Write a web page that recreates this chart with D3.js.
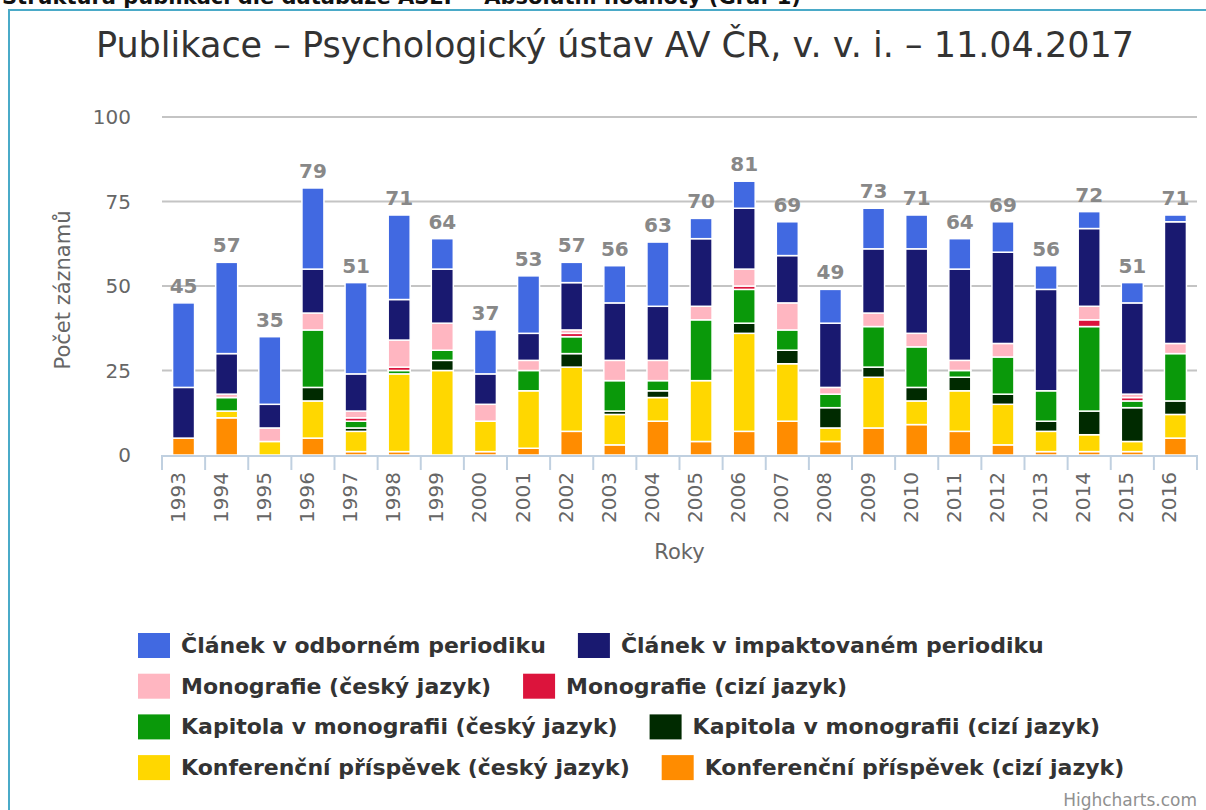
<!DOCTYPE html>
<html>
<head>
<meta charset="utf-8">
<script src="https://cdn.jsdelivr.net/npm/d3@7"></script>
<style>
  body { margin: 0; background: #fff; }
  svg { display: block; font-family: "DejaVu Sans", sans-serif; }
</style>
</head>
<body>
<div id="chart"></div>
<script>
/* Publikace - stacked columns by year */

// data
const years = ['1993','1994','1995','1996','1997','1998','1999','2000','2001','2002','2003','2004',
               '2005','2006','2007','2008','2009','2010','2011','2012','2013','2014','2015','2016'];

const clanekOdborny = [25,27,20,24,27,25, 9,13,17, 6,11,19, 6, 8,10,10,12,10, 9, 9, 7, 5, 6, 2];
const clanekImpakt  = [15,12, 7,13,11,12,16, 9, 8,14,17,16,20,18,14,19,19,25,27,27,30,23,27,36];
const monoCesky     = [ 0, 1, 4, 5, 2, 8, 8, 5, 3, 1, 6, 6, 4, 5, 8, 2, 4, 4, 3, 4, 0, 4, 1, 3];
const monoCizi      = [ 0, 0, 0, 0, 1, 1, 0, 0, 0, 1, 0, 0, 0, 1, 0, 0, 0, 0, 0, 0, 0, 2, 1, 0];
const kapCesky      = [ 0, 4, 0,17, 2, 1, 3, 0, 6, 5, 9, 3,18,10, 6, 4,12,12, 2,11, 9,25, 2,14];
const kapCizi       = [ 0, 0, 0, 4, 1, 0, 3, 0, 0, 4, 1, 2, 0, 3, 4, 6, 3, 4, 4, 3, 3, 7,10, 4];
const konfCesky     = [ 0, 2, 4,11, 6,23,25, 9,17,19, 9, 7,18,29,17, 4,15, 7,12,12, 6, 5, 3, 7];
const konfCizi      = [ 5,11, 0, 5, 1, 1, 0, 1, 2, 7, 3,10, 4, 7,10, 4, 8, 9, 7, 3, 1, 1, 1, 5];

const yTicks = [0, 25, 50, 75, 100];

// series in legend order (first one sits on top of the stack)
const series = [
  { key: 'clanekOdborny', name: 'Článek v odborném periodiku', colour: '#4169e1', values: clanekOdborny },
  { key: 'clanekImpakt', name: 'Článek v impaktovaném periodiku', colour: '#191970', values: clanekImpakt },
  { key: 'monoCesky', name: 'Monografie (český jazyk)', colour: '#ffb6c1', values: monoCesky },
  { key: 'monoCizi', name: 'Monografie (cizí jazyk)', colour: '#dc143c', values: monoCizi },
  { key: 'kapCesky', name: 'Kapitola v monografii (český jazyk)', colour: '#0a990a', values: kapCesky },
  { key: 'kapCizi', name: 'Kapitola v monografii (cizí jazyk)', colour: '#002a00', values: kapCizi },
  { key: 'konfCesky', name: 'Konferenční příspěvek (český jazyk)', colour: '#ffd700', values: konfCesky },
  { key: 'konfCizi', name: 'Konferenční příspěvek (cizí jazyk)', colour: '#ff8c00', values: konfCizi }
];

const config = {
  WIDTH: 1206,
  HEIGHT: 810,
  PLOT_LEFT: 162,
  PLOT_RIGHT: 1197,
  PLOT_TOP: 117,
  PLOT_BOTTOM: 455,
  LEGEND_X: 138,
  LEGEND_Y: 653,
  LEGEND_ROW: 40.7,
  SYMBOL_W: 32,
  SYMBOL_H: 25,
  ITEM_DISTANCE: 32
};

// table for d3.stack
const rows = years.map((y, i) => {
  let r = { year: y };
  series.forEach(s => { r[s.key] = s.values[i]; });
  return r;
});
const totals = years.map((y, i) => d3.sum(series, s => s.values[i]));

const svg = d3.select('#chart').append('svg')
  .attr('width', config.WIDTH)
  .attr('height', config.HEIGHT);

// page header (cut off at the top) and frame
svg.append('text')
  .attr('x', 2).attr('y', 4)
  .style('font-size', '21px').style('font-weight', 'bold').style('fill', '#111')
  .text('Struktura publikací dle databáze ASEP – Absolutní hodnoty (Graf 1)');

svg.append('path')
  .attr('d', 'M9,' + config.HEIGHT + 'V10H' + config.WIDTH)
  .attr('fill', 'none')
  .attr('stroke', '#4aaac8')
  .attr('stroke-width', 2);

// scales
const x = d3.scaleBand()
  .domain(years)
  .range([config.PLOT_LEFT, config.PLOT_RIGHT])
  .paddingInner(0.49)
  .paddingOuter(0.245);

const y = d3.scaleLinear()
  .domain([0, 100])
  .range([config.PLOT_BOTTOM, config.PLOT_TOP]);

// title
svg.append('text')
  .attr('x', 615).attr('y', 57)
  .attr('text-anchor', 'middle')
  .style('font-size', '35px').style('fill', '#333')
  .text('Publikace – Psychologický ústav AV ČR, v. v. i. – 11.04.2017');

// grid + y labels
const yAxis = svg.append('g');
yAxis.selectAll('line')
  .data(yTicks.filter(t => t > 0))
  .enter().append('line')
  .attr('x1', config.PLOT_LEFT).attr('x2', config.PLOT_RIGHT)
  .attr('y1', t => y(t)).attr('y2', t => y(t))
  .attr('stroke', '#c4c4c4').attr('stroke-width', 2);

yAxis.selectAll('text')
  .data(yTicks)
  .enter().append('text')
  .attr('x', 131)
  .attr('y', t => y(t) + 7)
  .attr('text-anchor', 'end')
  .style('font-size', '20px').style('fill', '#666')
  .text(t => t);

svg.append('text')
  .attr('transform', 'translate(70,' + (y(50) + 4) + ') rotate(-90)')
  .attr('text-anchor', 'middle')
  .style('font-size', '21px').style('fill', '#666')
  .text('Počet záznamů');

// stacked bars
const stack = d3.stack().keys(series.map(s => s.key).reverse());
const layers = stack(rows);
const colourOf = {};
series.forEach(s => { colourOf[s.key] = s.colour; });

svg.append('g').selectAll('g')
  .data(layers)
  .enter().append('g')
  .attr('fill', d => colourOf[d.key])
  .selectAll('rect')
  .data(d => d.filter(p => p[1] > p[0]))
  .enter().append('rect')
  .attr('x', p => x(p.data.year))
  .attr('width', x.bandwidth())
  .attr('y', p => y(p[1]))
  .attr('height', p => y(p[0]) - y(p[1]))
  .attr('stroke', '#fff')
  .attr('stroke-width', 1.5);

// stack totals
svg.append('g').selectAll('text')
  .data(years)
  .enter().append('text')
  .attr('x', yr => x(yr) + x.bandwidth() / 2)
  .attr('y', (yr, i) => y(totals[i]) - 10)
  .attr('text-anchor', 'middle')
  .style('font-size', '20px').style('font-weight', 'bold').style('fill', '#888')
  .text((yr, i) => totals[i]);

// x axis line, ticks on category edges, rotated labels
const step = x.step();
svg.append('line')
  .attr('x1', config.PLOT_LEFT).attr('x2', config.PLOT_RIGHT)
  .attr('y1', config.PLOT_BOTTOM + 1).attr('y2', config.PLOT_BOTTOM + 1)
  .attr('stroke', '#c0d0e0').attr('stroke-width', 2);

svg.append('g').selectAll('line')
  .data(d3.range(years.length + 1))
  .enter().append('line')
  .attr('x1', i => config.PLOT_LEFT + i * step)
  .attr('x2', i => config.PLOT_LEFT + i * step)
  .attr('y1', config.PLOT_BOTTOM).attr('y2', config.PLOT_BOTTOM + 15)
  .attr('stroke', '#c0d0e0').attr('stroke-width', 2);

svg.append('g').selectAll('text')
  .data(years)
  .enter().append('text')
  .attr('transform', yr => 'translate(' + (x(yr) + x.bandwidth() / 2 + 1) + ',472) rotate(-90)')
  .attr('text-anchor', 'end')
  .style('font-size', '20px').style('fill', '#666')
  .text(yr => yr);

svg.append('text')
  .attr('x', (config.PLOT_LEFT + config.PLOT_RIGHT) / 2).attr('y', 559)
  .attr('text-anchor', 'middle')
  .style('font-size', '21px').style('fill', '#666')
  .text('Roky');

// legend, two items per row, flowing left to right
const legend = svg.append('g');
let cursor = config.LEGEND_X;
series.forEach((s, i) => {
  const row = Math.floor(i / 2);
  if (i % 2 === 0) cursor = config.LEGEND_X;
  const base = config.LEGEND_Y + row * config.LEGEND_ROW;

  legend.append('rect')
    .attr('x', cursor)
    .attr('y', base - 20)
    .attr('width', config.SYMBOL_W)
    .attr('height', config.SYMBOL_H)
    .attr('fill', s.colour);

  const label = legend.append('text')
    .attr('x', cursor + config.SYMBOL_W + 11)
    .attr('y', base)
    .style('font-size', '22px').style('font-weight', 'bold').style('fill', '#333')
    .text(s.name);

  cursor += config.SYMBOL_W + 11 + label.node().getComputedTextLength() + config.ITEM_DISTANCE;
});

// credits
svg.append('text')
  .attr('x', config.PLOT_RIGHT).attr('y', 806)
  .attr('text-anchor', 'end')
  .style('font-size', '17px').style('fill', '#909090')
  .text('Highcharts.com');
</script>
</body>
</html>
